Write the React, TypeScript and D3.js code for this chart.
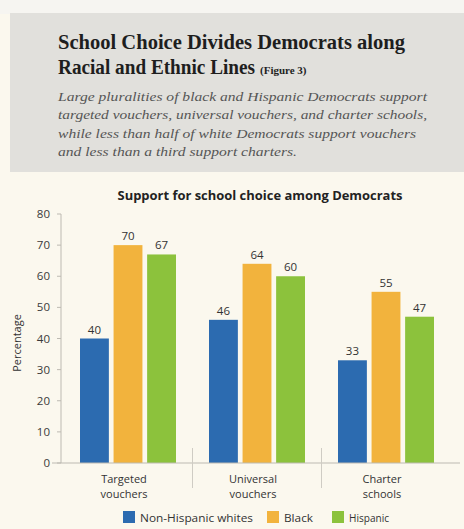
import React from "react";
import * as d3 from "d3";

const categories = ["Targeted vouchers", "Universal vouchers", "Charter schools"];
const categoryLines = [["Targeted", "vouchers"], ["Universal", "vouchers"], ["Charter", "schools"]];
const seriesNames = ["Non-Hispanic whites", "Black", "Hispanic"];
const whites = [40, 46, 33];
const black = [70, 64, 55];
const hispanic = [67, 60, 47];
const yTicks = [0, 10, 20, 30, 40, 50, 60, 70, 80];
const colors = ["#2c6bb0", "#f2b33d", "#8cc23c"];

const titleLines = ["School Choice Divides Democrats along", "Racial and Ethnic Lines"];
const subtitleLines = [
  "Large pluralities of black and Hispanic Democrats support",
  "targeted vouchers, universal vouchers, and charter schools,",
  "while less than half of white Democrats support vouchers",
  "and less than a third support charters.",
];

export default function App() {
  const W = 464, H = 529;
  const values = [whites, black, hispanic];
  const x = d3.scaleBand<string>().domain(categories).range([63.5, 450.5]).padding(0);
  const inner = d3.scaleBand<string>().domain(seriesNames).range([0, 96]).paddingInner(0.14);
  const y = d3.scaleLinear().domain([0, 80]).range([463, 214]);
  const sans = "'Open Sans', 'DejaVu Sans', sans-serif";
  const serif = "'Liberation Serif', 'DejaVu Serif', serif";
  const subWidths = [369, 369, 358, 239];
  const legendX = [123, 267, 332];
  const legendW = [113, 29, 40];

  return (
    <svg width={W} height={H} style={{ position: "absolute", left: 0, top: 0 }}>
      <rect x={0} y={0} width={W} height={H} fill="#fbf8ee" />
      <rect x={0} y={0} width={W} height={14} fill="#f6f5f1" />
      <rect x={10} y={13} width={W - 10} height={159} fill="#e1e0dc" />
      <text x={58} y={49} fontFamily={serif} fontWeight="bold" fontSize={20} fill="#1e1e1e"
        textLength={347} lengthAdjust="spacingAndGlyphs">{titleLines[0]}</text>
      <text x={58} y={74} fontFamily={serif} fontWeight="bold" fontSize={20} fill="#1e1e1e">
        <tspan textLength={197} lengthAdjust="spacingAndGlyphs">{titleLines[1]}</tspan>
        <tspan dx={5} fontSize={11}>(Figure 3)</tspan>
      </text>
      {subtitleLines.map((s, i) => (
        <text key={i} x={58} y={101 + i * 18.3} fontFamily={serif} fontStyle="italic" fontSize={13}
          fill="#555" textLength={subWidths[i]} lengthAdjust="spacingAndGlyphs">{s}</text>
      ))}
      <text x={260} y={200} textAnchor="middle" fontFamily={sans} fontWeight="bold" fontSize={11.5}
        fill="#222" textLength={285} lengthAdjust="spacingAndGlyphs">Support for school choice among Democrats</text>

      {/* y axis */}
      <line x1={61} x2={61} y1={y(80)} y2={y(0)} stroke="#bdbab2" strokeWidth={1} />
      {yTicks.map((t) => (
        <g key={t}>
          <line x1={57} x2={61} y1={y(t)} y2={y(t)} stroke="#bdbab2" />
          <text x={50} y={y(t)} dy="0.35em" textAnchor="end" fontFamily={sans} fontSize={11.5} fill="#3a3a3a">{t}</text>
        </g>
      ))}
      <text transform={`translate(21,343) rotate(-90)`} textAnchor="middle" fontFamily={sans} fontSize={11}
        fill="#333">Percentage</text>

      {/* bars */}
      {categories.map((c, ci) => {
        const gx = (x(c) as number) + x.bandwidth() / 2 - 48;
        return (
          <g key={c}>
            {seriesNames.map((s, si) => {
              const v = values[si][ci];
              const bx = gx + (inner(s) as number);
              return (
                <g key={s}>
                  <rect x={bx} y={y(v)} width={inner.bandwidth()} height={y(0) - y(v)} fill={colors[si]} />
                  <text x={bx + inner.bandwidth() / 2} y={y(v) - 5} textAnchor="middle" fontFamily={sans}
                    fontSize={11.5} fill="#333">{v}</text>
                </g>
              );
            })}
          </g>
        );
      })}

      {/* x axis */}
      <line x1={52} x2={460} y1={y(0)} y2={y(0)} stroke="#bdbab2" />
      {categories.slice(1).map((c) => (
        <line key={c} x1={x(c) as number} x2={x(c) as number} y1={448} y2={488} stroke="#cfccc4" />
      ))}
      {categories.map((c, ci) =>
        categoryLines[ci].map((l, li) => (
          <text key={c + li} x={(x(c) as number) + x.bandwidth() / 2 - 4} y={483 + li * 14.5}
            textAnchor="middle" fontFamily={sans} fontSize={11} fill="#333">{l}</text>
        ))
      )}

      {/* legend */}
      {seriesNames.map((s, si) => (
        <g key={s}>
          <rect x={legendX[si]} y={511} width={12} height={12} fill={colors[si]} />
          <text x={legendX[si] + 17} y={521.5} fontFamily={sans} fontSize={11} fill="#333"
            textLength={legendW[si]} lengthAdjust="spacingAndGlyphs">{s}</text>
        </g>
      ))}
    </svg>
  );
}
